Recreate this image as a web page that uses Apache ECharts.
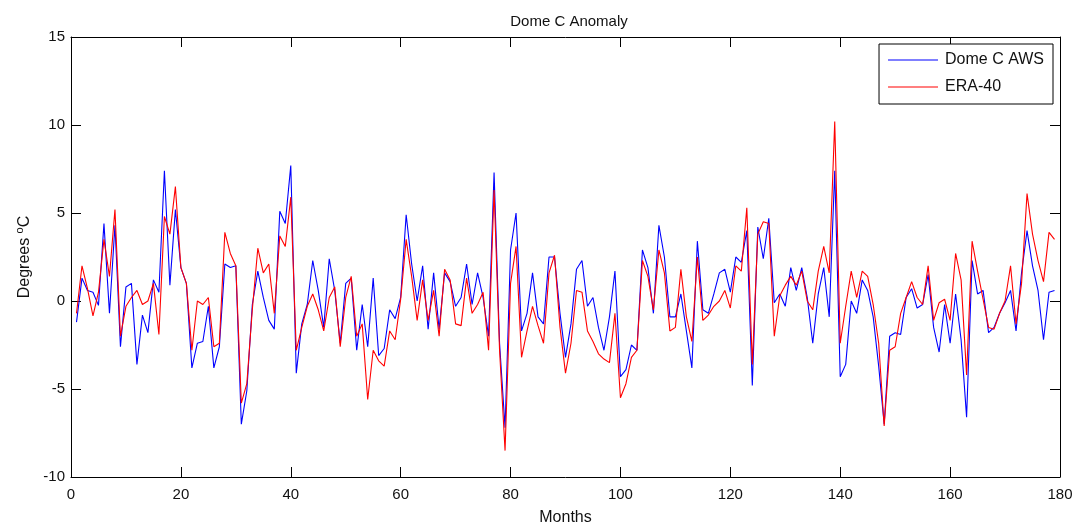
<!DOCTYPE html>
<html>
<head>
<meta charset="utf-8">
<script src="https://cdn.jsdelivr.net/npm/echarts@6/dist/echarts.min.js"></script>
<style>
html,body{margin:0;padding:0;background:#fff;}
#chart{width:1076px;height:528px;}
</style>
</head>
<body>
<div id="chart"></div>
<script>
// Month index for each sample
const months = [];
for (let m = 1; m <= 179; m++) months.push(m);

// Dome C AWS anomaly (deg C), months 1..179
const domeC = [
 -1.2, 1.3, 0.6, 0.5, -0.25, 4.4, -0.7, 4.3, -2.6, 0.8,
  1.0, -3.6, -0.8, -1.8, 1.2, 0.5, 7.4, 0.9, 5.2, 1.9,
  1.0, -3.8, -2.4, -2.3, -0.3, -3.8, -2.6, 2.1, 1.9, 2.0,
 -7.0, -5.1, -0.2, 1.7, 0.2, -1.1, -1.6, 5.1, 4.4, 7.7,
 -4.1, -1.3, -0.2, 2.3, 0.6, -1.5, 2.4, 0.6, -2.4, 1.0,
  1.3, -2.8, -0.2, -2.6, 1.3, -3.1, -2.7, -0.5, -1.0, 0.2,
  4.9, 2.1, 0.0, 2.0, -1.6, 1.6, -1.6, 1.6, 1.1, -0.3,
  0.2, 2.1, -0.2, 1.6, 0.2, -2.0, 7.3, -2.4, -7.2, 2.9,
  5.0, -1.7, -0.7, 1.6, -0.9, -1.3, 2.5, 2.5, -0.7, -3.2,
 -1.3, 1.8, 2.3, -0.3, 0.2, -1.5, -2.8, -0.9, 1.7, -4.3,
 -3.9, -2.5, -2.8, 2.9, 1.9, -0.7, 4.3, 2.5, -0.9, -0.9,
  0.4, -1.7, -3.8, 3.4, -0.5, -0.7, 0.4, 1.6, 1.8, 0.5,
  2.5, 2.2, 4.0, -4.8, 4.2, 2.4, 4.7, -0.1, 0.4, -0.3,
  1.9, 0.6, 1.9, 0.2, -2.4, 0.4, 1.9, -0.9, 7.4, -4.3,
 -3.6, 0.0, -0.7, 1.2, 0.6, -0.9, -3.7, -7.0, -2.0, -1.8,
 -1.9, 0.2, 0.7, -0.4, -0.2, 1.5, -1.5, -2.9, -0.2, -2.4,
  0.4, -2.2, -6.6, 2.3, 0.4, 0.6, -1.8, -1.5, -0.7, -0.1,
  0.6, -1.7, 1.6, 4.0, 2.0, 0.6, -2.2, 0.5, 0.6
];

// ERA-40 anomaly (deg C), months 1..179
const era40 = [
 -0.7, 2.0, 0.7, -0.85, 0.5, 3.5, 1.4, 5.2, -2.0, -0.3,
  0.2, 0.6, -0.2, 0.0, 1.0, -1.9, 4.8, 3.8, 6.5, 1.9,
  1.0, -2.8, 0.0, -0.2, 0.2, -2.6, -2.4, 3.9, 2.7, 2.0,
 -5.8, -4.7, -0.5, 3.0, 1.6, 2.1, -0.7, 3.7, 3.1, 5.9,
 -2.8, -1.5, -0.3, 0.4, -0.5, -1.7, 0.2, 0.8, -2.6, 0.2,
  1.4, -2.0, -1.3, -5.6, -2.8, -3.4, -3.7, -1.7, -2.2, 0.1,
  3.5, 1.4, -1.1, 1.2, -1.1, 0.6, -2.0, 1.8, 1.2, -1.3,
 -1.4, 1.3, -0.7, -0.2, 0.5, -2.8, 6.3, -2.8, -8.5, 1.0,
  3.1, -3.2, -1.7, -0.3, -1.4, -2.4, 1.6, 2.6, -1.5, -4.1,
 -2.4, 0.6, 0.5, -1.7, -2.3, -3.0, -3.3, -3.5, -0.7, -5.5,
 -4.7, -3.2, -2.8, 2.3, 1.4, -0.5, 2.9, 1.6, -1.7, -1.5,
  1.8, -0.9, -2.3, 2.5, -1.1, -0.8, -0.3, 0.0, 0.6, -0.4,
  2.0, 1.7, 5.3, -3.6, 3.8, 4.5, 4.4, -2.0, 0.3, 0.9,
  1.4, 0.9, 1.7, 0.0, -0.5, 1.7, 3.1, 1.6, 10.2, -2.4,
 -0.3, 1.7, 0.2, 1.7, 1.4, -0.2, -2.4, -7.1, -2.8, -2.6,
 -0.7, 0.2, 1.1, 0.2, -0.2, 2.0, -1.1, -0.1, 0.1, -1.1,
  2.7, 1.2, -4.2, 3.4, 1.7, 0.1, -1.5, -1.6, -0.7, 0.0,
  2.0, -1.3, 1.0, 6.1, 3.8, 2.3, 1.1, 3.9, 3.5
];

const seriesNames = ['Dome C AWS', 'ERA-40'];
const xTicks = { min: 0, max: 180, interval: 20 };
const yTicks = { min: -10, max: 15, interval: 5 };

const pair = (vals) => months.map((m, i) => [m, vals[i]]);

const FONT = 'Liberation Sans, Arial, Helvetica, sans-serif';
const INK = '#111';
const axisCommon = {
  axisLine: { show: true, onZero: false, lineStyle: { color: '#000', width: 1 } },
  axisTick: { show: true, inside: true, length: 10, lineStyle: { color: '#000' } },
  splitLine: { show: false }
};

const chart = echarts.init(document.getElementById('chart'), null, { renderer: 'canvas' });
chart.setOption({
  animation: false,
  backgroundColor: '#fff',
  textStyle: { fontFamily: FONT },
  title: {
    text: 'Dome C Anomaly',
    left: 564, top: 9, textAlign: 'center',
    textStyle: { fontSize: 15, fontWeight: 'normal', color: INK, fontFamily: FONT }
  },
  legend: {
    data: seriesNames,
    orient: 'vertical',
    right: 23, top: 44,
    backgroundColor: '#fff',
    borderColor: '#000', borderWidth: 1,
    padding: [8, 9, 9, 9],
    itemGap: 11,
    itemWidth: 50, itemHeight: 16,
    icon: 'path://M0,8 L50,8 L50,9 L0,9 Z',
    textStyle: { fontSize: 16, color: INK, fontFamily: FONT, padding: [0, 0, 0, 2] }
  },
  grid: { left: 71, right: 16, top: 37, bottom: 51, containLabel: false, outerBoundsMode: 'none' },
  xAxis: [
    Object.assign({
      type: 'value', position: 'bottom',
      min: xTicks.min, max: xTicks.max, interval: xTicks.interval,
      name: 'Months', nameLocation: 'middle', nameGap: 33,
      nameTextStyle: { fontSize: 16, color: INK, fontFamily: FONT },
      axisLabel: { fontSize: 15, color: INK, margin: 10, fontFamily: FONT }
    }, axisCommon),
    Object.assign({
      type: 'value', position: 'top',
      min: xTicks.min, max: xTicks.max, interval: xTicks.interval,
      axisLabel: { show: false }
    }, axisCommon)
  ],
  yAxis: [
    Object.assign({
      type: 'value', position: 'left',
      min: yTicks.min, max: yTicks.max, interval: yTicks.interval,
      name: 'Degrees {sup|o}C', nameLocation: 'middle', nameGap: 34, nameRotate: 90,
      nameTextStyle: {
        fontSize: 16, color: INK, fontFamily: FONT,
        rich: { sup: { fontSize: 11, verticalAlign: 'top', padding: [0, 0, 8, 0], color: INK } }
      },
      axisLabel: { fontSize: 15, color: INK, margin: 6, fontFamily: FONT }
    }, axisCommon),
    Object.assign({
      type: 'value', position: 'right',
      min: yTicks.min, max: yTicks.max, interval: yTicks.interval,
      axisLabel: { show: false }
    }, axisCommon)
  ],
  series: [
    {
      name: seriesNames[0], type: 'line', xAxisIndex: 0, yAxisIndex: 0,
      data: pair(domeC), showSymbol: false, symbol: 'none',
      lineStyle: { color: '#0000ff', width: 1.1 }, itemStyle: { color: '#0000ff' }, z: 2
    },
    {
      name: seriesNames[1], type: 'line', xAxisIndex: 0, yAxisIndex: 0,
      data: pair(era40), showSymbol: false, symbol: 'none',
      lineStyle: { color: '#ff0000', width: 1.1 }, itemStyle: { color: '#ff0000' }, z: 3
    }
  ]
});
</script>
</body>
</html>
